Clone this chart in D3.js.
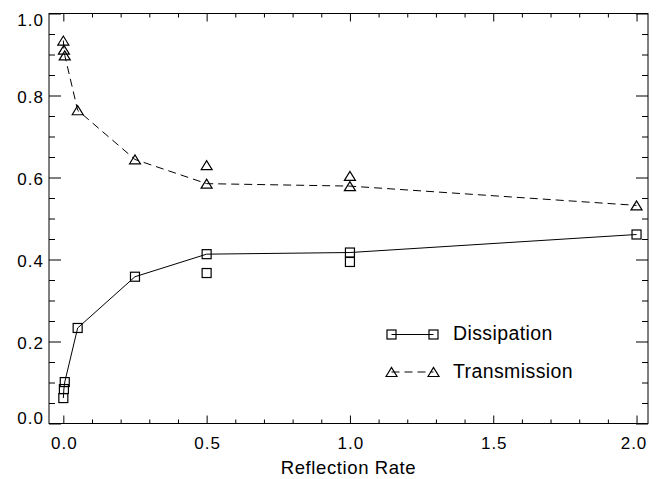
<!DOCTYPE html>
<html>
<head>
<meta charset="utf-8">
<script src="https://cdn.jsdelivr.net/npm/d3@7"></script>
<style>
  body { margin: 0; background: #fff; }
  text { font-family: "Liberation Sans", Arial, Helvetica, sans-serif; fill: #000; }
</style>
</head>
<body>
<div class="chart"></div>
<script>
// main run: line + markers
const rate = [0, 0.002, 0.005, 0.05, 0.25, 0.5, 1.0, 2.0];
const dissipation = [0.062, 0.084, 0.101, 0.233, 0.358, 0.413, 0.417, 0.461];
const transmission = [0.934, 0.912, 0.898, 0.764, 0.644, 0.585, 0.579, 0.532];
// extra runs: markers only
const rateExtra = [0.5, 1.0];
const dissipationExtra = [0.367, 0.394];
const transmissionExtra = [0.630, 0.604];

const xMajor = [0, 0.5, 1.0, 1.5, 2.0];
const yMajor = [0, 0.2, 0.4, 0.6, 0.8, 1.0];
const xMinor = d3.range(1, 21).filter(d => d % 5 !== 0).map(d => d / 10);
const yMinor = d3.range(1, 20).filter(d => d % 4 !== 0).map(d => d / 20);

const W = 666, H = 479;
const plotL = 49, plotR = 648, plotT = 13.5, plotB = 423.5;

const x = d3.scaleLinear().domain([-0.05, 2.04]).range([plotL, plotR]);
const y = d3.scaleLinear().domain([0, 1]).range([plotB, plotT]);

const svg = d3.select(".chart").append("svg")
    .attr("width", W)
    .attr("height", H);

svg.append("rect")
    .attr("x", plotL).attr("y", plotT)
    .attr("width", plotR - plotL).attr("height", plotB - plotT)
    .attr("fill", "none")
    .attr("stroke", "#000")
    .attr("stroke-width", 1);

function drawAxis(axis, tx, ty) {
    const g = svg.append("g").attr("transform", `translate(${tx},${ty})`).call(axis);
    g.select(".domain").remove();
    g.selectAll("line").attr("stroke", "#000").attr("stroke-width", 1);
    return g;
}

// bottom
const xb = drawAxis(d3.axisBottom(x).tickValues(xMajor).tickSize(-8).tickPadding(13.5)
    .tickFormat(d3.format(".1f")), 0, plotB);
drawAxis(d3.axisBottom(x).tickValues(xMinor).tickSize(-4).tickFormat(""), 0, plotB);
// top
drawAxis(d3.axisTop(x).tickValues(xMajor).tickSize(-8).tickFormat(""), 0, plotT);
drawAxis(d3.axisTop(x).tickValues(xMinor).tickSize(-4).tickFormat(""), 0, plotT);
// left
const yl = drawAxis(d3.axisLeft(y).tickValues(yMajor).tickSize(-12).tickPadding(5)
    .tickFormat(d3.format(".1f")), plotL, 0);
drawAxis(d3.axisLeft(y).tickValues(yMinor).tickSize(-6).tickFormat(""), plotL, 0);
// right
drawAxis(d3.axisRight(y).tickValues(yMajor).tickSize(-12).tickFormat(""), plotR, 0);
drawAxis(d3.axisRight(y).tickValues(yMinor).tickSize(-6).tickFormat(""), plotR, 0);

xb.selectAll("text")
    .attr("font-size", 17).attr("letter-spacing", 1)
    .attr("font-family", null)
    .attr("x", d => {
        const p = x(d);
        return Math.min(p, plotR - 15) - p + 0.5;
    });
yl.selectAll("text")
    .attr("font-size", 17).attr("letter-spacing", 1)
    .attr("font-family", null)
    .attr("dy", null)
    .attr("dominant-baseline", "central")
    .attr("y", d => {
        const p = y(d) + 1.5;
        return Math.max(plotT + 6, Math.min(plotB - 5.5, p)) - y(d);
    });

svg.append("text")
    .attr("x", (plotL + plotR) / 2)
    .attr("y", 474)
    .attr("text-anchor", "middle")
    .attr("font-size", 18.5)
    .attr("letter-spacing", 0.6)
    .text("Reflection Rate");

// lines
const line = d3.line();
svg.append("path")
    .attr("d", line(rate.map((r, i) => [x(r), y(dissipation[i])])))
    .attr("fill", "none").attr("stroke", "#000").attr("stroke-width", 1);
svg.append("path")
    .attr("d", line(rate.map((r, i) => [x(r), y(transmission[i])])))
    .attr("fill", "none").attr("stroke", "#000").attr("stroke-width", 1)
    .attr("stroke-dasharray", "8,5");

const sq = 9;
function square(g, cx, cy) {
    g.append("rect")
        .attr("x", cx - sq / 2).attr("y", cy - sq / 2)
        .attr("width", sq).attr("height", sq)
        .attr("fill", "none").attr("stroke", "#000").attr("stroke-width", 1.2);
}
const tw = 5.5, th = 4.5;
function triangle(g, cx, cy) {
    g.append("path")
        .attr("d", `M${cx - tw},${cy + th}L${cx},${cy - th}L${cx + tw},${cy + th}Z`)
        .attr("fill", "none").attr("stroke", "#000").attr("stroke-width", 1.2);
}

const marks = svg.append("g");
rate.forEach((r, i) => square(marks, x(r), y(dissipation[i])));
rateExtra.forEach((r, i) => square(marks, x(r), y(dissipationExtra[i])));
rate.forEach((r, i) => triangle(marks, x(r), y(transmission[i])));
rateExtra.forEach((r, i) => triangle(marks, x(r), y(transmissionExtra[i])));

// legend
const legend = svg.append("g");
const lx0 = 391.5, lx1 = 433.5;
const rows = [
    { name: "Dissipation", yy: 334.5, dash: null, mark: square },
    { name: "Transmission", yy: 372, dash: "8,5", mark: triangle }
];
rows.forEach(r => {
    legend.append("line")
        .attr("x1", lx0).attr("x2", lx1).attr("y1", r.yy).attr("y2", r.yy)
        .attr("stroke", "#000").attr("stroke-width", 1)
        .attr("stroke-dasharray", r.dash);
    r.mark(legend, lx0, r.yy);
    r.mark(legend, lx1, r.yy);
    legend.append("text")
        .attr("x", 453)
        .attr("y", r.yy + 5.5)
        .attr("font-size", 19.5)
        .attr("letter-spacing", 0.4)
        .text(r.name);
});
</script>
</body>
</html>
